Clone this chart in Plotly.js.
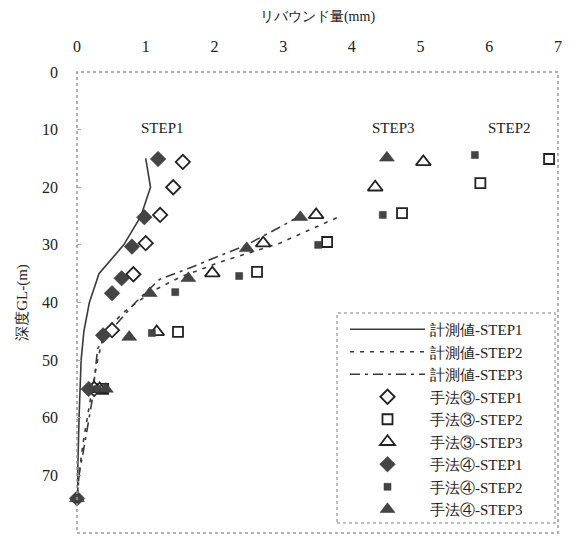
<!DOCTYPE html>
<html>
<head>
<meta charset="utf-8">
<script src="https://cdn.plot.ly/plotly-3.0.1.min.js"></script>
<style>html,body{margin:0;padding:0;background:#fff;}#chart{width:574px;height:540px;}</style>
</head>
<body>
<div id="chart"></div>
<script>
// Measured rebound (mm) vs depth GL- (m)
const measDepth1 = [15, 20, 25, 30, 35, 40, 45, 50, 60, 74];
const measStep1  = [1.0, 1.07, 0.93, 0.68, 0.32, 0.18, 0.1, 0.06, 0.03, 0.0];
const measDepth2 = [25.3, 29.7, 33, 35.6, 38, 41.5, 45, 50, 55, 60, 65, 70, 74];
const measStep2  = [3.78, 2.95, 2.08, 1.5, 1.1, 0.7, 0.4, 0.3, 0.22, 0.15, 0.08, 0.03, 0.0];
const measDepth3 = [25, 30, 34, 36, 40, 45, 48, 57, 66, 69, 74];
const measStep3  = [3.25, 2.47, 1.64, 1.2, 0.85, 0.48, 0.3, 0.22, 0.09, 0.04, 0.0];

// Method 3 (hollow markers)
const m3Depth1 = [15.6, 20, 24.8, 29.7, 35.1, 44.8, 55];
const m3Step1  = [1.54, 1.40, 1.21, 1.0, 0.82, 0.51, 0.25];
const m3Depth2 = [15.1, 19.3, 24.5, 29.5, 34.7, 45.1, 55];
const m3Step2  = [6.87, 5.87, 4.73, 3.64, 2.62, 1.47, 0.38];
const m3Depth3 = [15.6, 20, 24.8, 29.7, 34.9, 45.1, 55];
const m3Step3  = [5.04, 4.34, 3.48, 2.71, 1.97, 1.16, 0.33];

// Method 4 (filled markers)
const m4Depth1 = [15.1, 25.2, 30.3, 35.8, 38.4, 45.7, 55, 74];
const m4Step1  = [1.18, 0.98, 0.8, 0.65, 0.51, 0.38, 0.17, 0];
const m4Depth2 = [14.4, 24.8, 30, 35.4, 38.2, 45.3, 55, 74];
const m4Step2  = [5.79, 4.45, 3.51, 2.36, 1.43, 1.09, 0.3, 0];
const m4Depth3 = [14.9, 25.2, 30.6, 35.8, 38.4, 46, 55, 74];
const m4Step3  = [4.51, 3.25, 2.47, 1.62, 1.06, 0.76, 0.42, 0];

const seriesNames = ['計測値-STEP1','計測値-STEP2','計測値-STEP3',
  '手法③-STEP1','手法③-STEP2','手法③-STEP3',
  '手法④-STEP1','手法④-STEP2','手法④-STEP3'];
const stepLabels = ['STEP1','STEP3','STEP2'];
const stepLabelX = [1.24, 4.6, 6.3];
const stepLabelY = [9.7, 9.7, 9.7];
const xTicks = [0,1,2,3,4,5,6,7];
const yTicks = [0,10,20,30,40,50,60,70,80];

const FONT = 'Liberation Serif';
const dark = '#3a3a3a';

const traces = [
  {x: measStep1, y: measDepth1, name: seriesNames[0], mode: 'lines', line: {color: dark, width: 1.6}},
  {x: measStep2, y: measDepth2, name: seriesNames[1], mode: 'lines', line: {color: dark, width: 1.6, dash: '4px,6px'}},
  {x: measStep3, y: measDepth3, name: seriesNames[2], mode: 'lines', line: {color: dark, width: 1.6, dash: '10px,5px,3px,5px'}},
  {x: m3Step1, y: m3Depth1, name: seriesNames[3], mode: 'markers', marker: {symbol: 'diamond', size: 11, color: '#fff', line: {color: '#222', width: 1.8}}},
  {x: m3Step2, y: m3Depth2, name: seriesNames[4], mode: 'markers', marker: {symbol: 'square', size: 10, color: '#fff', line: {color: '#222', width: 1.8}}},
  {x: m3Step3, y: m3Depth3, name: seriesNames[5], mode: 'markers', marker: {symbol: 'triangle-up', size: 13, color: '#fff', line: {color: '#222', width: 1.8}}},
  {x: m4Step1, y: m4Depth1, name: seriesNames[6], mode: 'markers', marker: {symbol: 'diamond', size: 12, color: '#444', line: {color: '#333', width: 0.5}}},
  {x: m4Step2, y: m4Depth2, name: seriesNames[7], mode: 'markers', marker: {symbol: 'square', size: 7, color: '#444', line: {color: '#333', width: 0.5}}},
  {x: m4Step3, y: m4Depth3, name: seriesNames[8], mode: 'markers', marker: {symbol: 'triangle-up', size: 13, color: '#444', line: {color: '#333', width: 0.5}}}
];
traces.forEach(t => { t.cliponaxis = false; });

const W = 574, H = 540, L = 77, R = 16, T = 72, B = 7;
const pw = W - L - R, ph = H - T - B;
const px = v => (v - L) / pw;
const py = v => 1 - (v - T) / ph;

const layout = {
  width: W, height: H,
  margin: {l: L, r: R, t: T, b: B},
  paper_bgcolor: '#fff', plot_bgcolor: '#fff',
  font: {family: FONT, size: 15, color: '#222'},
  showlegend: true,
  legend: {x: px(345), y: py(313), xanchor: 'left', yanchor: 'top',
    bgcolor: 'rgba(0,0,0,0)', borderwidth: 0, itemwidth: 75,
    font: {family: FONT, size: 15, color: '#222'}, tracegroupgap: 0},
  xaxis: {side: 'top', range: [0, 7], tickvals: xTicks, ticktext: xTicks.map(String),
    showgrid: false, zeroline: false, showline: false, ticks: '', ticklabelstandoff: 16,
    tickfont: {family: FONT, size: 16, color: '#222'},
    title: {text: 'リバウンド量(mm)', font: {family: FONT, size: 14, color: '#222'}, standoff: 12}},
  yaxis: {range: [80, 0], tickvals: yTicks, ticktext: yTicks.map(String),
    showgrid: false, zeroline: false, showline: false, ticks: 'inside', ticklen: 4, tickcolor: '#aaa',
    ticklabelstandoff: 18,
    tickfont: {family: FONT, size: 16, color: '#222'},
    title: {text: '深度GL-(m)', font: {family: FONT, size: 15, color: '#222'}, standoff: 10}},
  shapes: [
    {type: 'rect', xref: 'paper', yref: 'paper', x0: 0, x1: 1, y0: 0, y1: 1,
      line: {color: '#999', width: 1.5, dash: 'dot'}},
    {type: 'rect', xref: 'paper', yref: 'paper', x0: px(337), x1: px(555), y0: py(523), y1: py(313),
      line: {color: '#aaa', width: 1.5, dash: 'dot'}}
  ],
  annotations: stepLabels.map((s, i) => ({x: stepLabelX[i], y: stepLabelY[i], xref: 'x', yref: 'y',
    text: s, showarrow: false, font: {family: FONT, size: 15, color: '#222'}}))
};

Plotly.newPlot('chart', traces, layout, {displayModeBar: false, staticPlot: true});
</script>
</body>
</html>
